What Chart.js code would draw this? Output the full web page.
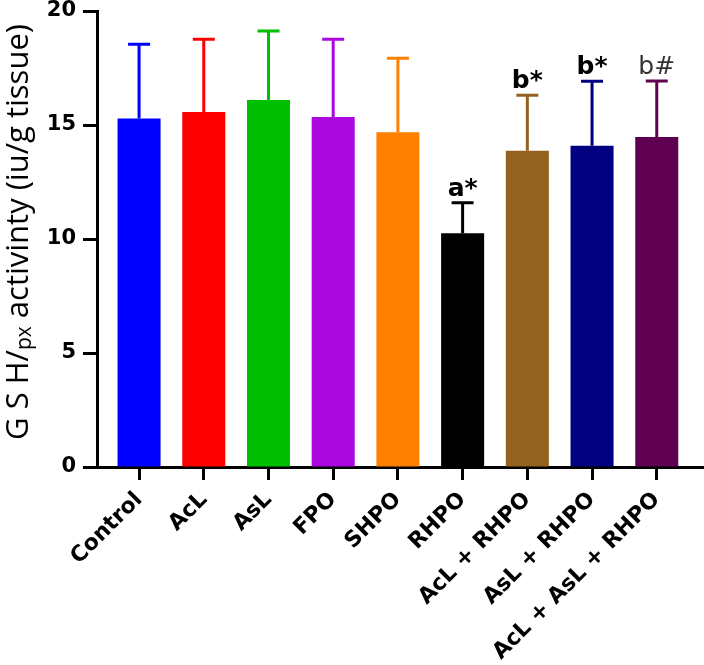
<!DOCTYPE html>
<html lang="en">
<head>
    <meta charset="UTF-8">
    <title>GSH-px activity</title>
    <script src="https://cdn.jsdelivr.net/npm/chart.js"></script>
    <style>
        body {
            margin: 0;
            background: #fff;
        }
        canvas {
            display: block;
        }
    </style>
</head>
<body>
    <canvas id="gshChart" width="704" height="665"></canvas>

    <script>
        // Group names, means and SD
        const categories = ["Control", "AcL", "AsL", "FPO", "SHPO", "RHPO",
            "AcL + RHPO", "AsL + RHPO", "AcL + AsL + RHPO"];
        const means = [15.29, 15.57, 16.10, 15.35, 14.68, 10.25, 13.87, 14.09, 14.47];
        const sds = [3.25, 3.19, 3.02, 3.41, 3.25, 1.34, 2.43, 2.83, 2.46];
        const marks = ["", "", "", "", "", "a*", "b*", "b*", "b#"];
        const yTicks = [0, 5, 10, 15, 20];

        const barColors = ["#0000ff", "#ff0000", "#00bf00", "#ab08e0", "#ff8000",
            "#000000", "#94621f", "#000080", "#600050"];

        const FONT = "'DejaVu Sans', 'Liberation Sans', Arial, sans-serif";

        // error bars (upper only) + significance letters
        const errorBars = {
            id: 'errorBars',
            afterDatasetsDraw(chart) {
                const ctx = chart.ctx;
                const yScale = chart.scales.y;
                const meta = chart.getDatasetMeta(0);
                meta.data.forEach((bar, i) => {
                    const yTop = yScale.getPixelForValue(means[i]);
                    const yCap = yScale.getPixelForValue(means[i] + sds[i]);
                    ctx.save();
                    ctx.strokeStyle = barColors[i];
                    ctx.lineWidth = 3;
                    ctx.beginPath();
                    ctx.moveTo(bar.x, yTop);
                    ctx.lineTo(bar.x, yCap);
                    ctx.moveTo(bar.x - 11, yCap);
                    ctx.lineTo(bar.x + 11, yCap);
                    ctx.stroke();

                    if (marks[i]) {
                        const plain = marks[i].indexOf('#') >= 0;
                        ctx.font = (plain ? '' : 'bold ') + '25px ' + FONT;
                        ctx.fillStyle = plain ? '#333' : '#000';
                        ctx.textAlign = 'center';
                        ctx.textBaseline = 'alphabetic';
                        ctx.fillText(marks[i], bar.x, yCap - 7);
                    }
                    ctx.restore();
                });
            }
        };

        // y title with subscript "px"
        const yTitle = {
            id: 'yTitle',
            afterDraw(chart) {
                const ctx = chart.ctx;
                const parts = [
                    { t: "G S H/", size: 31, dy: 0 },
                    { t: "px", size: 21, dy: 6 },
                    { t: " activinty (iu/g tissue)", size: 31, dy: 0 }
                ];
                ctx.save();
                let total = 0;
                parts.forEach(p => {
                    ctx.font = p.size + "px 'Open Sans', sans-serif";
                    p.w = ctx.measureText(p.t).width;
                    total += p.w;
                });
                ctx.translate(19, 232);
                ctx.rotate(-Math.PI / 2);
                ctx.fillStyle = '#000';
                ctx.textBaseline = 'middle';
                ctx.textAlign = 'left';
                let x = -total / 2;
                parts.forEach(p => {
                    ctx.font = p.size + "px 'Open Sans', sans-serif";
                    ctx.fillText(p.t, x, p.dy);
                    x += p.w;
                });
                ctx.restore();
            }
        };

        const ctx = document.getElementById('gshChart').getContext('2d');
        new Chart(ctx, {
            type: 'bar',
            data: {
                datasets: [{
                    data: means.map((m, i) => ({ x: i, y: m })),
                    backgroundColor: barColors,
                    borderWidth: 0,
                    categoryPercentage: 1,
                    barPercentage: 0.665
                }]
            },
            options: {
                responsive: false,
                animation: false,
                layout: { padding: { top: 11, right: 0, left: 0, bottom: 0 } },
                plugins: {
                    legend: { display: false },
                    tooltip: { enabled: false }
                },
                scales: {
                    x: {
                        type: 'linear',
                        min: -0.65,
                        max: 8.73,
                        offset: false,
                        z: 1,
                        afterBuildTicks: s => { s.ticks = categories.map((c, i) => ({ value: i })); },
                        afterFit: s => { s.height = 198; },
                        ticks: {
                            autoSkip: false,
                            minRotation: 45,
                            maxRotation: 45,
                            padding: 7,
                            color: '#000',
                            font: { family: FONT, size: 22, weight: 'bold' },
                            callback: v => categories[v]
                        },
                        grid: {
                            display: true,
                            offset: false,
                            drawOnChartArea: false,
                            tickLength: 13,
                            tickWidth: 3,
                            tickColor: '#000'
                        },
                        border: { display: true, color: '#000', width: 3 }
                    },
                    y: {
                        min: 0,
                        max: 20,
                        afterBuildTicks: s => { s.ticks = yTicks.map(v => ({ value: v })); },
                        afterFit: s => { s.width = 97; s.paddingTop = 0; },
                        ticks: {
                            padding: 7,
                            color: '#000',
                            font: { family: FONT, size: 21, weight: 'bold' }
                        },
                        grid: {
                            display: true,
                            drawOnChartArea: false,
                            tickLength: 14,
                            tickWidth: 3,
                            tickColor: '#000'
                        },
                        border: { display: true, color: '#000', width: 3 }
                    }
                }
            },
            plugins: [errorBars, yTitle]
        });
    </script>
</body>
</html>
